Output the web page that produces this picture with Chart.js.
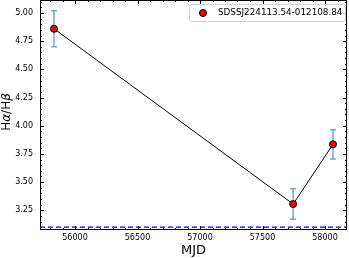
<!DOCTYPE html>
<html>
<head>
<meta charset="utf-8">
<script src="https://cdn.jsdelivr.net/npm/chart.js@4.4.0/dist/chart.umd.min.js"></script>
<style>
  html, body { margin: 0; padding: 0; background: #fff; }
  #wrap { width: 349px; height: 258px; }
</style>
</head>
<body>
<div id="wrap"><canvas id="balmerChart" width="349" height="258"></canvas></div>
<script>
// data
var mjd = [55832, 57745, 58064];
var ratio = [4.86, 3.305, 3.835];
var ratioErr = [0.16, 0.135, 0.13];
var caseB = 3.1;
var xTicks = [56000, 56500, 57000, 57500, 58000];
var yTicks = [3.25, 3.50, 3.75, 4.00, 4.25, 4.50, 4.75, 5.00];
var objName = 'SDSSJ224113.54-012108.84';
// y label pieces: [text, italic?]
var yLabel = [['H', false], ['α', true], ['/H', false], ['β', true]];

var FONT = 'DejaVu Sans';

var points = mjd.map(function(m, i) { return { x: m, y: ratio[i] }; });

// error bars, dashed reference line, inward ticks, frame, y label and legend
var extras = {
    id: 'extras',
    beforeDatasetsDraw: function(chart) {
        var c = chart.ctx, xs = chart.scales.x, ys = chart.scales.y, a = chart.chartArea;
        c.save();
        // dashed line
        c.strokeStyle = '#0000ff';
        c.lineWidth = 1.3;
        c.setLineDash([5, 3]);
        var yb = ys.getPixelForValue(caseB);
        c.beginPath(); c.moveTo(a.left, yb); c.lineTo(a.right, yb); c.stroke();
        c.setLineDash([]);
        // error bars
        c.strokeStyle = '#6ea8d8';
        c.lineWidth = 1.5;
        for (var i = 0; i < mjd.length; i++) {
            var px = xs.getPixelForValue(mjd[i]);
            var t = ys.getPixelForValue(ratio[i] + ratioErr[i]);
            var b = ys.getPixelForValue(ratio[i] - ratioErr[i]);
            c.beginPath();
            c.moveTo(px, t); c.lineTo(px, b);
            c.moveTo(px - 3, t); c.lineTo(px + 3, t);
            c.moveTo(px - 3, b); c.lineTo(px + 3, b);
            c.stroke();
        }
        c.restore();
    },
    afterDraw: function(chart) {
        var c = chart.ctx, xs = chart.scales.x, ys = chart.scales.y, a = chart.chartArea;
        c.save();
        c.strokeStyle = '#000';
        c.lineWidth = 1;
        var v, p;
        c.beginPath();
        for (v = 55800; v <= xs.max; v += 100) {
            if (v < xs.min) continue;
            p = Math.round(xs.getPixelForValue(v)) + 0.5;
            var len = (v % 500 === 0) ? 4 : 2;
            c.moveTo(p, a.bottom); c.lineTo(p, a.bottom - len);
            c.moveTo(p, a.top); c.lineTo(p, a.top + len);
        }
        for (var k = 62; k <= 102; k++) {
            v = k * 0.05;
            if (v < ys.min || v > ys.max) continue;
            p = Math.round(ys.getPixelForValue(v)) + 0.5;
            var ln = (k % 5 === 0) ? 4 : 2;
            c.moveTo(a.left, p); c.lineTo(a.left + ln, p);
            c.moveTo(a.right, p); c.lineTo(a.right - ln, p);
        }
        c.stroke();
        // frame
        c.strokeRect(a.left + 0.5, a.top + 0.5, a.right - a.left - 1, a.bottom - a.top - 1);

        // y axis label with italic greek letters
        c.save();
        c.translate(7, (a.top + a.bottom) / 2 - 3);
        c.rotate(-Math.PI / 2);
        c.fillStyle = '#000';
        c.textBaseline = 'middle';
        var total = 0, fonts = [];
        yLabel.forEach(function(part) {
            var f = (part[1] ? 'italic ' : '') + '12px "' + FONT + '"';
            c.font = f;
            fonts.push(f);
            total += c.measureText(part[0]).width;
        });
        var cx = -total / 2;
        yLabel.forEach(function(part, i) {
            c.font = fonts[i];
            c.fillText(part[0], cx, 0);
            cx += c.measureText(part[0]).width;
        });
        c.restore();

        // legend
        var lx = 189, ly = 4, lw = 156, lh = 17;
        c.fillStyle = 'rgba(255,255,255,0.8)';
        c.strokeStyle = '#d0d0d0';
        c.beginPath();
        c.roundRect(lx + 0.5, ly + 0.5, lw, lh, 2);
        c.fill(); c.stroke();
        c.beginPath();
        c.arc(203, ly + 9, 3.5, 0, Math.PI * 2);
        c.fillStyle = '#ff0000'; c.fill();
        c.strokeStyle = '#000'; c.lineWidth = 1; c.stroke();
        c.fillStyle = '#000';
        c.font = '8.8px "' + FONT + '"';
        c.textBaseline = 'middle';
        c.fillText(objName, 218, ly + 9);
        c.restore();
    }
};

var ctx = document.getElementById('balmerChart').getContext('2d');
var balmerChart = new Chart(ctx, {
    type: 'scatter',
    data: {
        datasets: [{
            label: objName,
            data: points,
            showLine: true,
            borderColor: '#000',
            borderWidth: 1,
            pointBackgroundColor: '#ff0000',
            pointBorderColor: '#000',
            pointBorderWidth: 1,
            pointRadius: 3.5
        }]
    },
    options: {
        responsive: false,
        animation: false,
        layout: { autoPadding: false, padding: { top: 0, right: 2, left: 0, bottom: 0 } },
        plugins: {
            legend: { display: false },
            title: { display: false },
            tooltip: { enabled: false }
        },
        scales: {
            x: {
                type: 'linear',
                min: 55720,
                max: 58176,
                grid: { display: false, drawTicks: false },
                border: { display: false },
                afterBuildTicks: function(s) { s.ticks = xTicks.map(function(v) { return { value: v }; }); },
                afterFit: function(s) { s.height = 28; s.paddingLeft = 0; s.paddingRight = 0; },
                ticks: {
                    padding: 3,
                    color: '#000',
                    font: { family: FONT, size: 8 },
                    maxRotation: 0,
                    callback: function(v) { return String(v); }
                },
                title: {
                    display: true,
                    text: 'MJD',
                    color: '#000',
                    font: { family: FONT, size: 13 },
                    padding: 0
                }
            },
            y: {
                min: 3.075,
                max: 5.115,
                grid: { display: false, drawTicks: false },
                border: { display: false },
                afterBuildTicks: function(s) { s.ticks = yTicks.map(function(v) { return { value: v }; }); },
                afterFit: function(s) { s.width = 40; s.paddingTop = 0; s.paddingBottom = 0; },
                ticks: {
                    padding: 7,
                    color: '#000',
                    font: { family: FONT, size: 8 },
                    callback: function(v) { return v.toFixed(2); }
                },
                title: { display: false }
            }
        }
    },
    plugins: [extras]
});
</script>
</body>
</html>
